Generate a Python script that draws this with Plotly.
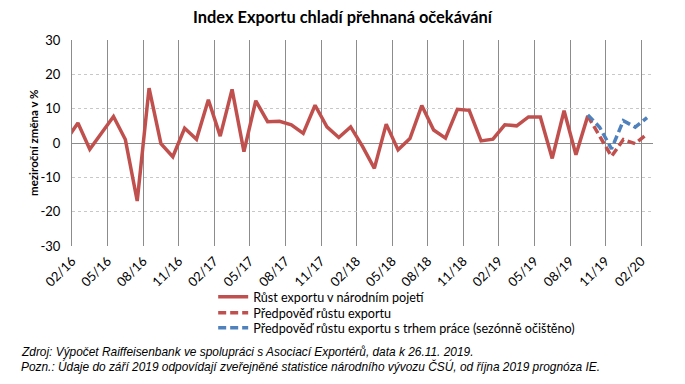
import plotly.graph_objects as go

# Month labels (01/16 is only the hidden lead-in point clipped at the axis)
months = [f"{m:02d}/{y}" for y in range(16, 21) for m in range(1, 13)][:50]

# Actual export growth, 01/16 .. 09/19 (y/y %)
export_actual = [0.8, 5.8, -1.8, 3.0, 7.7, 1.0, -16.9, 16.0, -0.2, -4.0,
                 4.3, 1.1, 12.6, 2.0, 15.6, -2.5, 12.3, 6.2, 6.3, 5.3,
                 2.8, 11.0, 4.7, 1.6, 4.7, -1.0, -7.4, 5.5, -2.0, 1.3,
                 10.9, 3.8, 1.4, 9.8, 9.5, 0.6, 1.1, 5.3, 5.0, 7.6,
                 7.6, -4.5, 9.4, -3.4, 7.9]
# Forecasts, 09/19 .. 02/20
forecast = [7.9, 2.2, -3.9, 1.0, -0.2, 2.6]
forecast_labour = [8.2, 4.6, -1.7, 6.5, 4.6, 7.4]

y_ticks = [-30, -20, -10, 0, 10, 20, 30]
y_ticktext = ["-30", "-20", "-10", "0", "10", "20", "30"]

names = ["Růst exportu v národním pojetí",
         "Předpověď růstu exportu",
         "Předpověď růstu exportu s trhem práce (sezónně očištěno)"]

RED = "#C0504D"
BLUE = "#4F81BD"

x_all = list(range(len(months)))
x_act = x_all[:len(export_actual)]
x_fc = x_all[len(export_actual) - 1:len(export_actual) - 1 + len(forecast)]

fig = go.Figure()
fig.add_trace(go.Scatter(x=x_act, y=export_actual, mode="lines", name=names[0],
                         line=dict(color=RED, width=3.5), legend="legend"))
fig.add_trace(go.Scatter(x=x_fc, y=forecast, mode="lines", name=names[1],
                         line=dict(color=RED, width=3.5, dash="8px,4px"), legend="legend2"))
fig.add_trace(go.Scatter(x=x_fc, y=forecast_labour, mode="lines", name=names[2],
                         line=dict(color=BLUE, width=3.5, dash="8px,4px"), legend="legend3"))

tickvals = [i - 0.5 for i in range(1, len(months), 3)]
ticktext = months[1::3]

PLOT_H = 206.0
def py(px):
    return -(px - 246) / PLOT_H

leg_common = dict(x=0.243, xanchor="left", yanchor="middle", orientation="v",
                  font=dict(family="Lato", size=12.6, color="#000000"),
                  bgcolor="rgba(0,0,0,0)", itemwidth=30)

fig.update_layout(
    width=685, height=384,
    margin=dict(l=72, r=32, t=40, b=138),
    paper_bgcolor="white", plot_bgcolor="white",
    title=dict(text="<b>Index Exportu chladí přehnaná očekávání</b>",
               x=0.5, xref="container", xanchor="center",
               y=1 - 17 / 384, yref="container", yanchor="middle",
               font=dict(family="Lato", size=16.4, color="#000000")),
    showlegend=True,
    legend=dict(y=py(297), **leg_common),
    legend2=dict(y=py(313), **leg_common),
    legend3=dict(y=py(328), **leg_common),
    xaxis=dict(range=[0.5, 49.5], tickmode="array", tickvals=tickvals,
               ticktext=ticktext, tickangle=-45, showgrid=True,
               gridcolor="#8C8C8C", gridwidth=1, zeroline=False, showline=False,
               ticks="", automargin=False, ticklabelstandoff=4,
               tickfont=dict(family="Lato", size=13, color="#000000"),
               fixedrange=True),
    yaxis=dict(range=[-30, 30], tickmode="array", tickvals=y_ticks,
               ticktext=y_ticktext, showgrid=True, gridcolor="#C8C8C8",
               griddash="dot", gridwidth=1, zeroline=True, zerolinecolor="#8C8C8C",
               zerolinewidth=1, showline=True, linecolor="#8C8C8C", linewidth=1,
               ticks="", ticklabelstandoff=8, automargin=False,
               tickfont=dict(family="Lato", size=13, color="#000000"),
               fixedrange=True),
)

fig.add_annotation(text="<b>meziroční změna v %</b>", textangle=-90,
                   xref="paper", x=(33 - 72) / 580, xanchor="center",
                   yref="paper", y=0.5, yanchor="middle", showarrow=False,
                   font=dict(family="Lato", size=11.5, color="#000000"))

notes_font = dict(family="Liberation Sans", size=11.9, color="#000000")
fig.add_annotation(text="<i>Zdroj: Výpočet Raiffeisenbank ve spolupráci s Asociací Exportérů, data k 26.11. 2019.</i>",
                   xref="paper", x=(19 - 72) / 580, xanchor="left",
                   yref="paper", y=py(352), yanchor="middle", showarrow=False,
                   font=notes_font)
fig.add_annotation(text="<i>Pozn.: Údaje do září 2019 odpovídají zveřejněné statistice národního vývozu ČSÚ, od října 2019 prognóza IE.</i>",
                   xref="paper", x=(19 - 72) / 580, xanchor="left",
                   yref="paper", y=py(366), yanchor="middle", showarrow=False,
                   font=notes_font)

fig.write_html("out.html", config={"displayModeBar": False},
               post_script="document.body.style.margin='0px';")
